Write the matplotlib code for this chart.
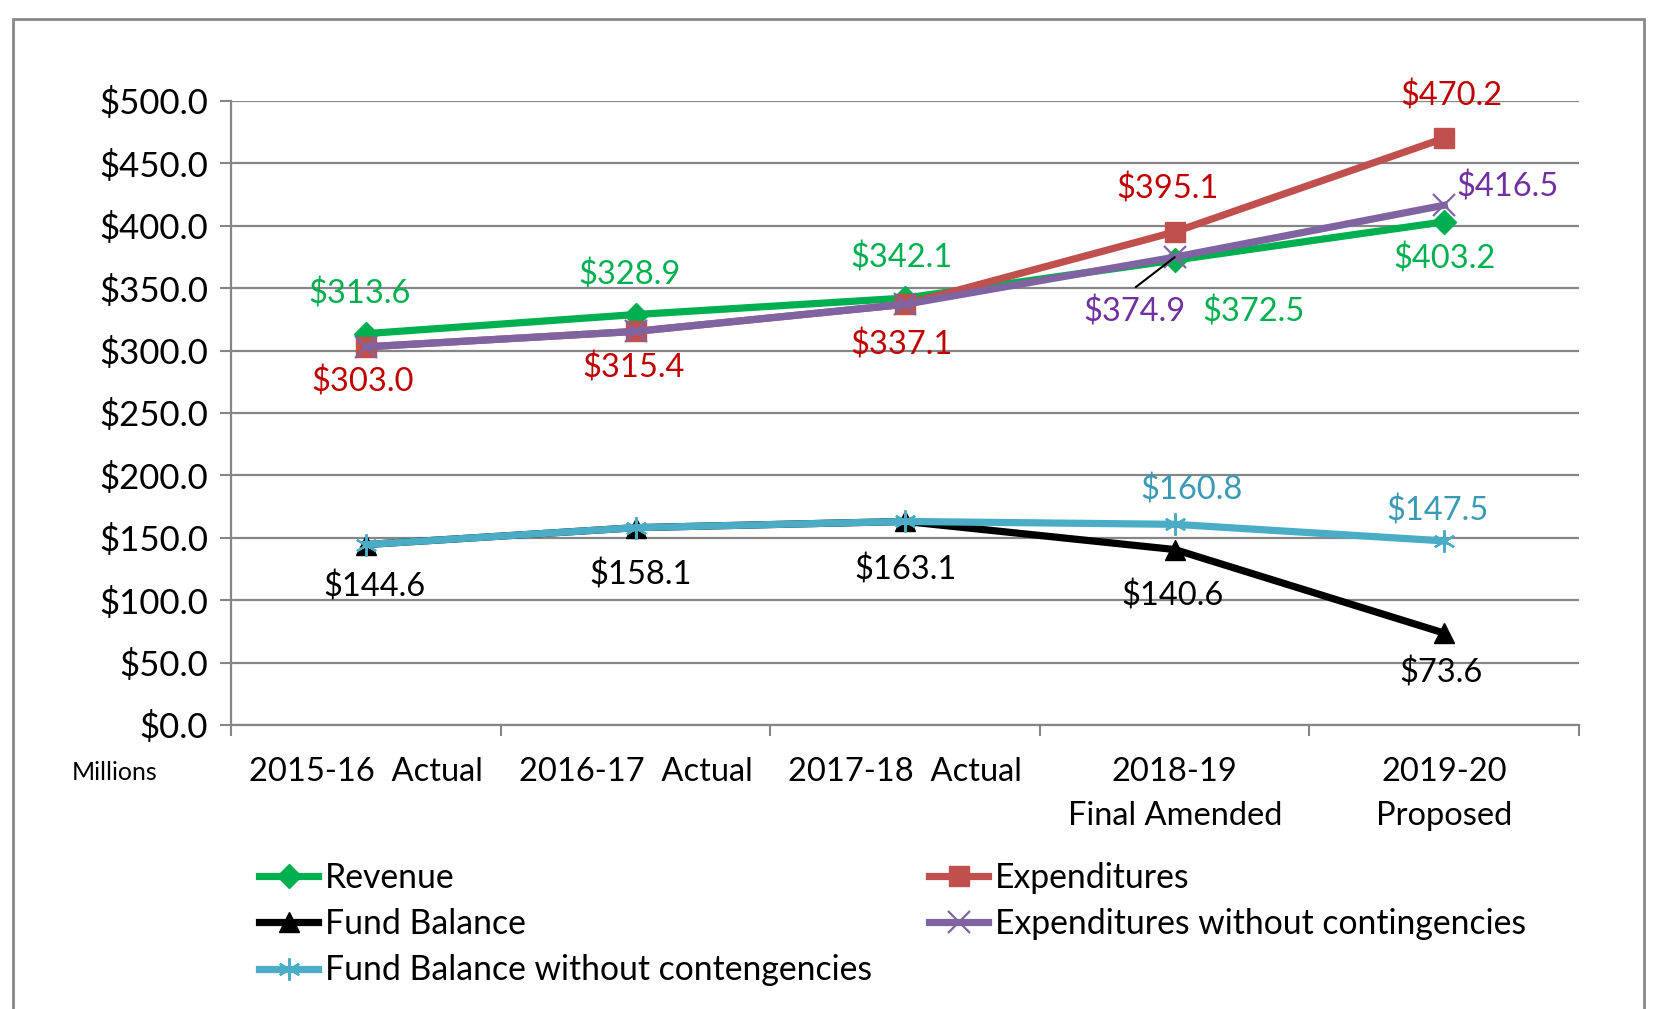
import matplotlib
matplotlib.use("Agg")
import matplotlib.pyplot as plt
from matplotlib.patches import Rectangle

plt.rcParams['font.family'] = ['Lato', 'DejaVu Sans']

# data (millions)
categories = ["2015-16  Actual", "2016-17  Actual", "2017-18  Actual",
              "2018-19\nFinal Amended", "2019-20\nProposed"]
revenue = [313.6, 328.9, 342.1, 372.5, 403.2]
expenditures = [303.0, 315.4, 337.1, 395.1, 470.2]
fund_balance = [144.6, 158.1, 163.1, 140.6, 73.6]
exp_wo_cont = [303.0, 315.4, 337.1, 374.9, 416.5]
fb_wo_cont = [144.6, 158.1, 163.1, 160.8, 147.5]
yticks = list(range(0, 501, 50))

GREEN, RED, RED_TXT = "#00B050", "#C0504D", "#C00000"
PURPLE, PURPLE_TXT = "#8064A2", "#7030A0"
CYAN, CYAN_TXT = "#4BACC6", "#3A9AB5"
GRID = "#868686"

W, H = 1665, 1009
fig = plt.figure(figsize=(W / 100, H / 100), dpi=100)
ax = fig.add_axes([231.5 / W, 1 - 725 / H, (1579 - 231.5) / W, (725 - 101) / H])

x = list(range(len(categories)))
lw = 5.2
l_rev, = ax.plot(x, revenue, color=GREEN, lw=lw, marker="D", ms=12, label="Revenue")
l_exp, = ax.plot(x, expenditures, color=RED, lw=lw, marker="s", ms=14, label="Expenditures")
l_fb, = ax.plot(x, fund_balance, color="black", lw=lw, marker="^", ms=14, label="Fund Balance")
l_exw, = ax.plot(x, exp_wo_cont, color=PURPLE, lw=lw, marker="x", ms=16, mew=1.6,
                 label="Expenditures without contingencies")
l_fbw, = ax.plot(x, fb_wo_cont, color=CYAN, lw=lw, marker=(6, 2, 0), ms=16, mew=1.6,
                 label="Fund Balance without contengencies")

ax.set_xlim(-0.5, len(categories) - 0.5)
ax.set_ylim(0, 500)
ax.set_yticks(yticks)
ax.set_yticklabels([f"${v:.1f}" for v in yticks])
ax.set_xticks(x)
ax.set_xticklabels(categories, linespacing=1.6)
ax.set_xticks([i - 0.5 for i in range(len(categories) + 1)], minor=True)
ax.tick_params(axis="x", which="major", length=0, pad=23, labelsize=23.5)
ax.tick_params(axis="x", which="minor", length=8, width=1.5, color=GRID, direction="out")
ax.tick_params(axis="y", length=8, width=1.5, color=GRID, pad=9, labelsize=25)
ax.grid(axis="y", color=GRID, lw=1.6)
ax.set_axisbelow(True)
for s in ["top", "right"]:
    ax.spines[s].set_visible(False)
for s in ["left", "bottom"]:
    ax.spines[s].set_color(GRID)
    ax.spines[s].set_linewidth(1.6)

fs = 23.5
def lab(i, vals, dx, dy, color):
    ax.annotate(f"${vals[i]:.1f}", (x[i], vals[i]), xytext=(dx, dy),
                textcoords="offset pixels", ha="center", va="center",
                fontsize=fs, color=color)

# offsets in pixels from each point
for i, (dx, dy) in enumerate([(-7, 40), (-6, 40), (-4, 40), (79, -52), (0, -37)]):
    lab(i, revenue, dx, dy, GREEN)
for i, (dx, dy) in enumerate([(-4, -35), (-2, -37), (-4, -41), (-7, 43), (7, 42)]):
    lab(i, expenditures, dx, dy, RED_TXT)
for i, (dx, dy) in enumerate([(8, -42), (5, -47), (0, -49), (-2, -46), (-3, -40)]):
    lab(i, fund_balance, dx, dy, "black")
lab(3, exp_wo_cont, -40, -55, PURPLE_TXT)
lab(4, exp_wo_cont, 63, 18, PURPLE_TXT)
lab(3, fb_wo_cont, 17, 34, CYAN_TXT)
lab(4, fb_wo_cont, -7, 30, CYAN_TXT)

# leader line for the crowded 2018-19 label
ax.annotate("", (x[3], exp_wo_cont[3]), xytext=(-39, -30), textcoords="offset pixels",
            arrowprops=dict(arrowstyle="-", color="black", lw=1.5, shrinkA=0, shrinkB=0))

fig.text(115 / W, 1 - 773 / H, "Millions", ha="center", va="center", fontsize=18)

fig.legend(handles=[l_rev, l_fb, l_fbw, l_exp, l_exw], ncol=2, frameon=False,
           loc="upper left", bbox_to_anchor=(259 / W, 1 - 862 / H), fontsize=24.3,
           handlelength=1.75, handletextpad=0.2, labelspacing=0.42, columnspacing=1.7,
           borderaxespad=0, borderpad=0)

fig.patches.append(Rectangle((13 / W, -0.05), (1644 - 13) / W, 1.05 - 19 / H,
                             transform=fig.transFigure, fill=False, ec="#898989", lw=2))

fig.savefig("out.png", dpi=100, facecolor="white")
